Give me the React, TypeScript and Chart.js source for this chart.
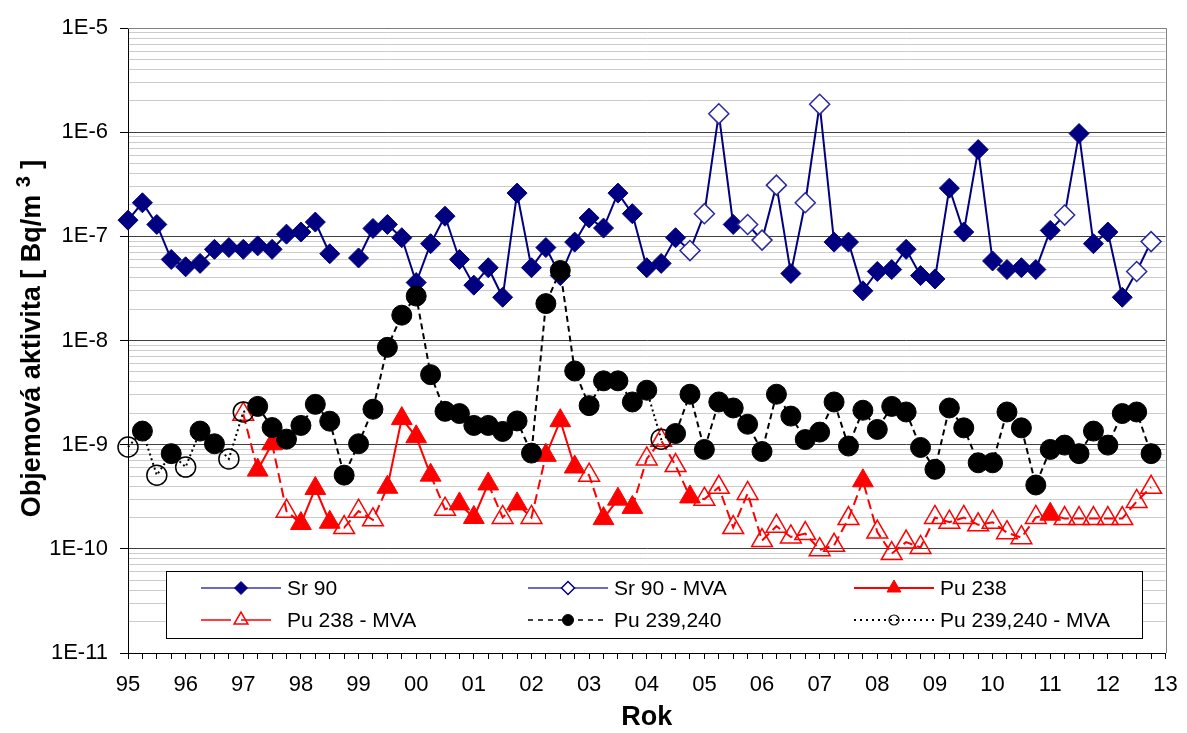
import React, { useEffect, useRef } from 'react';
import { Chart, registerables } from 'chart.js';

Chart.register(...registerables);

const FONT = '"Liberation Sans", Arial, Helvetica, sans-serif';
Chart.defaults.font.family = FONT;
Chart.defaults.color = '#000';

const _ = null;

// Category axis: one label per year, ticks every quarter
const yearLabels = ['95', '96', '97', '98', '99', '00', '01', '02', '03', '04', '05', '06', '07', '08', '09', '10', '11', '12', '13'];

// Logarithmic axis decades and their labels
const decadeExponents = [-11, -10, -9, -8, -7, -6, -5];
const decadeLabels = ['1E-11', '1E-10', '1E-9', '1E-8', '1E-7', '1E-6', '1E-5'];

const seriesNames = ['Sr 90', 'Sr 90 - MVA', 'Pu 238', 'Pu 238 - MVA', 'Pu 239,240', 'Pu 239,240 - MVA'];

const yAxisTitle = ['Objemová aktivita [ Bq/m ', '3', ' ]'];
const xAxisTitle = 'Rok';

// Quarterly volume activities [Bq/m3], 1995 Q1 ... 2012 Q4
const sr90 = [
  1.43e-7, 2.1e-7, 1.3e-7, 6.0e-8, 5.1e-8, 5.5e-8, 7.5e-8, 7.8e-8,
  7.5e-8, 8.1e-8, 7.5e-8, 1.05e-7, 1.1e-7, 1.37e-7, 6.8e-8, _,
  6.2e-8, 1.19e-7, 1.3e-7, 9.7e-8, 3.6e-8, 8.5e-8, 1.56e-7, 6.0e-8,
  3.4e-8, 5.0e-8, 2.6e-8, 2.6e-7, 5.0e-8, 7.8e-8, 4.2e-8, 8.8e-8,
  1.5e-7, 1.2e-7, 2.6e-7, 1.65e-7, 5.0e-8, 5.5e-8, 9.7e-8, _,
  _, _, 1.3e-7, _, _, _, 4.4e-8, _,
  _, 8.8e-8, 8.8e-8, 3.0e-8, 4.6e-8, 4.8e-8, 7.5e-8, 4.2e-8,
  3.9e-8, 2.9e-7, 1.1e-7, 6.8e-7, 5.8e-8, 4.8e-8, 5.0e-8, 4.8e-8,
  1.14e-7, _, 9.7e-7, 8.5e-8, 1.1e-7, 2.6e-8, _, _,
];

const sr90Mva = [
  _, _, _, _, _, _, _, _,
  _, _, _, _, _, _, _, _,
  _, _, _, _, _, _, _, _,
  _, _, _, _, _, _, _, _,
  _, _, _, _, _, _, _, 7.3e-8,
  1.65e-7, 1.5e-6, _, 1.3e-7, 9.2e-8, 3.1e-7, _, 2.1e-7,
  1.85e-6, _, _, _, _, _, _, _,
  _, _, _, _, _, _, _, _,
  _, 1.6e-7, _, _, _, _, 4.6e-8, 8.9e-8,
];

const pu238 = [
  _, _, _, _, _, _, _, _,
  _, 5.7e-10, 1.02e-9, _, 1.75e-10, 3.8e-10, 1.8e-10, _,
  _, _, 3.9e-10, 1.78e-9, 1.19e-9, 5.1e-10, _, 2.7e-10,
  2.0e-10, 4.2e-10, _, 2.7e-10, _, 7.9e-10, 1.7e-9, 6.1e-10,
  _, 1.95e-10, 3.0e-10, 2.5e-10, _, _, _, 3.15e-10,
  _, _, _, _, _, _, _, _,
  _, _, _, 4.5e-10, _, _, _, _,
  _, _, _, _, _, _, _, _,
  2.15e-10, _, _, _, _, _, _, _,
];

const pu238Mva = [
  _, _, _, _, _, _, _, _,
  1.96e-9, _, _, 2.3e-10, _, _, _, 1.6e-10,
  2.3e-10, 1.9e-10, _, _, _, _, 2.4e-10, _,
  _, _, 2.0e-10, _, 2.0e-10, _, _, _,
  5.1e-10, _, _, _, 7.3e-10, 1.1e-9, 6.3e-10, _,
  3.0e-10, 3.9e-10, 1.6e-10, 3.4e-10, 1.2e-10, 1.65e-10, 1.3e-10, 1.4e-10,
  9.8e-11, 1.08e-10, 1.95e-10, _, 1.45e-10, 9.0e-11, 1.16e-10, 1.03e-10,
  2.0e-10, 1.8e-10, 2.0e-10, 1.7e-10, 1.8e-10, 1.43e-10, 1.28e-10, 2.0e-10,
  _, 1.95e-10, 1.95e-10, 1.95e-10, 1.95e-10, 1.95e-10, 2.85e-10, 3.9e-10,
];

const pu239 = [
  _, 1.35e-9, _, 8.2e-10, _, 1.35e-9, 1.02e-9, _,
  _, 2.33e-9, 1.46e-9, 1.13e-9, 1.53e-9, 2.44e-9, 1.68e-9, 5.1e-10,
  1.02e-9, 2.19e-9, 8.6e-9, 1.75e-8, 2.67e-8, 4.7e-9, 2.09e-9, 1.99e-9,
  1.53e-9, 1.53e-9, 1.34e-9, 1.69e-9, 8.3e-10, 2.26e-8, 4.7e-8, 5.1e-9,
  2.37e-9, 4.1e-9, 4.1e-9, 2.57e-9, 3.33e-9, _, 1.28e-9, 3.05e-9,
  9.0e-10, 2.57e-9, 2.25e-9, 1.57e-9, 8.6e-10, 3.05e-9, 1.88e-9, 1.12e-9,
  1.32e-9, 2.57e-9, 9.7e-10, 2.14e-9, 1.4e-9, 2.33e-9, 2.06e-9, 9.4e-10,
  5.8e-10, 2.25e-9, 1.45e-9, 6.7e-10, 6.7e-10, 2.06e-9, 1.45e-9, 4.1e-10,
  9.0e-10, 9.9e-10, 8.2e-10, 1.35e-9, 9.9e-10, 1.99e-9, 2.06e-9, 8.2e-10,
];

const pu239Mva = [
  9.5e-10, _, 5.1e-10, _, 6.1e-10, _, _, 7.3e-10,
  2.06e-9, _, _, _, _, _, _, _,
  _, _, _, _, _, _, _, _,
  _, _, _, _, _, _, _, _,
  _, _, _, _, _, 1.13e-9, _, _,
  _, _, _, _, _, _, _, _,
  _, _, _, _, _, _, _, _,
  _, _, _, _, _, _, _, _,
  _, _, _, _, _, _, _, _,
];

const NAVY = '#000080';
const RED = '#ff0000';
const BLACK = '#000000';
const CLEAR = 'rgba(0,0,0,0)';

const quarterLabels: string[] = yearLabels.flatMap((y, k) => (k < yearLabels.length - 1 ? [y, '', '', ''] : [y]));

const yGridValues: number[] = [];
decadeExponents.forEach((e, k) => {
  if (k === decadeExponents.length - 1) {
    yGridValues.push(Math.pow(10, e));
    return;
  }
  for (let m = 1; m <= 9; m++) yGridValues.push(m * Math.pow(10, e));
});

const isDecade = (v: number | undefined) =>
  v != null && v > 0 && Math.abs(Math.log10(v) - Math.round(Math.log10(v))) < 1e-6;

const merge = (a: (number | null)[], b: (number | null)[]) => a.map((v, i) => (v != null ? v : b[i]));

const touches = (arr: (number | null)[]) => (ctx: any) =>
  arr[ctx.p0DataIndex] != null || arr[ctx.p1DataIndex] != null;

type MarkerKind = 'diamond' | 'triangle' | 'circle';

function drawMarker(
  ctx: CanvasRenderingContext2D, kind: MarkerKind, x: number, y: number, r: number,
  fill: string | null, stroke: string, lw: number,
) {
  ctx.beginPath();
  if (kind === 'diamond') {
    ctx.moveTo(x, y - r);
    ctx.lineTo(x + r, y);
    ctx.lineTo(x, y + r);
    ctx.lineTo(x - r, y);
    ctx.closePath();
  } else if (kind === 'triangle') {
    ctx.moveTo(x, y - r);
    ctx.lineTo(x + r * 0.866, y + r / 2);
    ctx.lineTo(x - r * 0.866, y + r / 2);
    ctx.closePath();
  } else {
    ctx.arc(x, y, r, 0, Math.PI * 2);
  }
  if (fill) {
    ctx.fillStyle = fill;
    ctx.fill();
  }
  if (lw > 0) {
    ctx.lineWidth = lw;
    ctx.strokeStyle = stroke;
    ctx.setLineDash([]);
    ctx.stroke();
  }
}

const legendItems = [
  { name: seriesNames[0], color: '#3a3aa0', lw: 1.5, dash: [] as number[], kind: 'diamond' as MarkerKind, r: 6.5, fill: NAVY, mlw: 1 },
  { name: seriesNames[1], color: '#3a3aa0', lw: 1.5, dash: [] as number[], kind: 'diamond' as MarkerKind, r: 6.5, fill: '#ffffff', mlw: 1.5 },
  { name: seriesNames[2], color: RED, lw: 2, dash: [] as number[], kind: 'triangle' as MarkerKind, r: 8, fill: RED, mlw: 1 },
  { name: seriesNames[3], color: RED, lw: 1.5, dash: [30, 10], kind: 'triangle' as MarkerKind, r: 8, fill: null, mlw: 1.5 },
  { name: seriesNames[4], color: BLACK, lw: 1.5, dash: [5, 5], kind: 'circle' as MarkerKind, r: 5.5, fill: BLACK, mlw: 1 },
  { name: seriesNames[5], color: BLACK, lw: 2, dash: [2, 4], kind: 'circle' as MarkerKind, r: 5, fill: null, mlw: 1.2 },
];

const decorPlugin = {
  id: 'decor',
  beforeDatasetsDraw(chart: any) {
    const { ctx, chartArea: a } = chart;
    ctx.save();
    ctx.strokeStyle = '#808080';
    ctx.lineWidth = 1;
    const t = Math.round(a.top) + 0.5;
    const r = Math.round(a.right) + 0.5;
    ctx.beginPath();
    ctx.moveTo(a.left, t);
    ctx.lineTo(r, t);
    ctx.lineTo(r, a.bottom);
    ctx.stroke();
    ctx.restore();
  },
  afterDraw(chart: any) {
    const { ctx, chartArea: a } = chart;
    ctx.save();

    // legend box
    const bx = 158, by = 563, bw = 976, bh = 67;
    ctx.fillStyle = '#ffffff';
    ctx.fillRect(bx, by, bw, bh);
    ctx.strokeStyle = '#000';
    ctx.lineWidth = 1;
    ctx.setLineDash([]);
    ctx.strokeRect(bx + 0.5, by + 0.5, bw, bh);

    const cols = [193, 520, 846];
    const rows = [580, 612];
    legendItems.forEach((it, k) => {
      const x0 = cols[k % 3];
      const y = rows[Math.floor(k / 3)];
      ctx.strokeStyle = it.color;
      ctx.lineWidth = it.lw;
      ctx.setLineDash(it.dash);
      ctx.beginPath();
      ctx.moveTo(x0, y);
      ctx.lineTo(x0 + 80, y);
      ctx.stroke();
      drawMarker(ctx, it.kind, x0 + 40, y, it.r, it.fill, it.kind === 'diamond' ? NAVY : it.color, it.mlw);
      ctx.fillStyle = '#000';
      ctx.font = `21px ${FONT}`;
      ctx.textAlign = 'left';
      ctx.textBaseline = 'middle';
      ctx.fillText(it.name, x0 + 86, y + 1);
    });

    // axis titles
    ctx.fillStyle = '#000';
    ctx.textBaseline = 'middle';
    ctx.textAlign = 'center';
    ctx.font = `bold 27px ${FONT}`;
    ctx.fillText(xAxisTitle, (a.left + a.right) / 2, 710);

    ctx.translate(25, (a.top + a.bottom) / 2 - 2);
    ctx.rotate(-Math.PI / 2);
    const parts = [
      { t: yAxisTitle[0], f: `bold 27px ${FONT}`, dy: 0 },
      { t: yAxisTitle[1], f: `bold 20px ${FONT}`, dy: -9 },
      { t: yAxisTitle[2], f: `bold 27px ${FONT}`, dy: 0 },
    ];
    let total = 0;
    parts.forEach((p) => {
      ctx.font = p.f;
      total += ctx.measureText(p.t).width;
    });
    let x = -total / 2;
    ctx.textAlign = 'left';
    parts.forEach((p) => {
      ctx.font = p.f;
      ctx.fillText(p.t, x, p.dy);
      x += ctx.measureText(p.t).width;
    });
    ctx.restore();
  },
};

export default function App() {
  const ref = useRef<HTMLCanvasElement>(null);

  useEffect(() => {
    if (!ref.current) return;
    const markerBase = { showLine: false, clip: false as any, pointHoverRadius: 0 };
    const chart = new Chart(ref.current, {
      type: 'line',
      data: {
        labels: quarterLabels,
        datasets: [
          {
            label: seriesNames[0], data: merge(sr90, sr90Mva), borderColor: NAVY, borderWidth: 2,
            pointRadius: 0, spanGaps: false, tension: 0, fill: false, clip: false as any, order: 9,
          },
          {
            ...markerBase, label: seriesNames[0], data: sr90, pointStyle: 'rectRot', pointRadius: 10,
            pointBackgroundColor: NAVY, pointBorderColor: NAVY, pointBorderWidth: 1, order: 8,
          },
          {
            ...markerBase, label: seriesNames[1], data: sr90Mva, pointStyle: 'rectRot', pointRadius: 10,
            pointBackgroundColor: '#ffffff', pointBorderColor: '#2a2a9a', pointBorderWidth: 1.5, order: 7,
          },
          {
            label: seriesNames[2], data: merge(pu238, pu238Mva), borderColor: RED, borderWidth: 2,
            pointRadius: 0, spanGaps: false, tension: 0, fill: false, clip: false as any, order: 6,
            segment: { borderDash: (c: any) => (touches(pu238Mva)(c) ? [10, 5] : undefined) },
          },
          {
            ...markerBase, label: seriesNames[2], data: pu238, pointStyle: 'triangle', pointRadius: 12,
            pointBackgroundColor: RED, pointBorderColor: RED, pointBorderWidth: 1, order: 5,
          },
          {
            ...markerBase, label: seriesNames[3], data: pu238Mva, pointStyle: 'triangle', pointRadius: 12,
            pointBackgroundColor: CLEAR, pointBorderColor: RED, pointBorderWidth: 1.5, order: 4,
          },
          {
            label: seriesNames[4], data: merge(pu239, pu239Mva), borderColor: BLACK, borderWidth: 2,
            borderDash: [6, 4], pointRadius: 0, spanGaps: false, tension: 0, fill: false, clip: false as any, order: 3,
            segment: { borderDash: (c: any) => (touches(pu239Mva)(c) ? [2, 3] : undefined) },
          },
          {
            ...markerBase, label: seriesNames[4], data: pu239, pointStyle: 'circle', pointRadius: 10,
            pointBackgroundColor: BLACK, pointBorderColor: BLACK, pointBorderWidth: 1, order: 2,
          },
          {
            ...markerBase, label: seriesNames[5], data: pu239Mva, pointStyle: 'circle', pointRadius: 10,
            pointBackgroundColor: CLEAR, pointBorderColor: BLACK, pointBorderWidth: 1.5, order: 1,
          },
        ] as any,
      },
      options: {
        responsive: true,
        maintainAspectRatio: false,
        animation: false,
        events: [],
        layout: { padding: { top: 20, right: 11, bottom: 0, left: 0 } },
        plugins: { legend: { display: false }, tooltip: { enabled: false } },
        scales: {
          x: {
            type: 'category',
            offset: false,
            grid: { drawOnChartArea: false, drawTicks: true, tickLength: 6, tickColor: '#000', color: '#000' },
            border: { display: true, color: '#000', width: 1 },
            ticks: { autoSkip: false, maxRotation: 0, minRotation: 0, padding: 13, font: { size: 22 }, color: '#000' },
            afterFit: (s: any) => {
              s.height = 72;
              s.paddingLeft = 0;
              s.paddingRight = 0;
            },
          },
          y: {
            type: 'logarithmic',
            min: 1e-11,
            max: 1e-5,
            afterBuildTicks: (s: any) => {
              s.ticks = yGridValues.map((v) => ({ value: v, major: isDecade(v) }));
            },
            grid: {
              drawOnChartArea: true,
              tickLength: 8,
              lineWidth: 1,
              color: (c: any) => (isDecade(c.tick?.value) ? '#404040' : '#cccccc'),
              tickColor: (c: any) => (isDecade(c.tick?.value) ? '#000' : CLEAR),
            },
            border: { display: true, color: '#000', width: 1 },
            ticks: {
              autoSkip: false,
              padding: 12,
              font: { size: 22 },
              color: '#000',
              callback: (v: any) => {
                const n = Number(v);
                if (!isDecade(n)) return '';
                const k = decadeExponents.indexOf(Math.round(Math.log10(n)));
                return k >= 0 ? decadeLabels[k] : '';
              },
            },
            afterFit: (s: any) => {
              s.width = 120;
              s.paddingTop = 0;
              s.paddingBottom = 0;
            },
          },
        },
      } as any,
      plugins: [decorPlugin],
    });
    return () => chart.destroy();
  }, []);

  return (
    <div style={{ position: 'relative', width: '100%', height: 717 }}>
      <canvas ref={ref} />
    </div>
  );
}
